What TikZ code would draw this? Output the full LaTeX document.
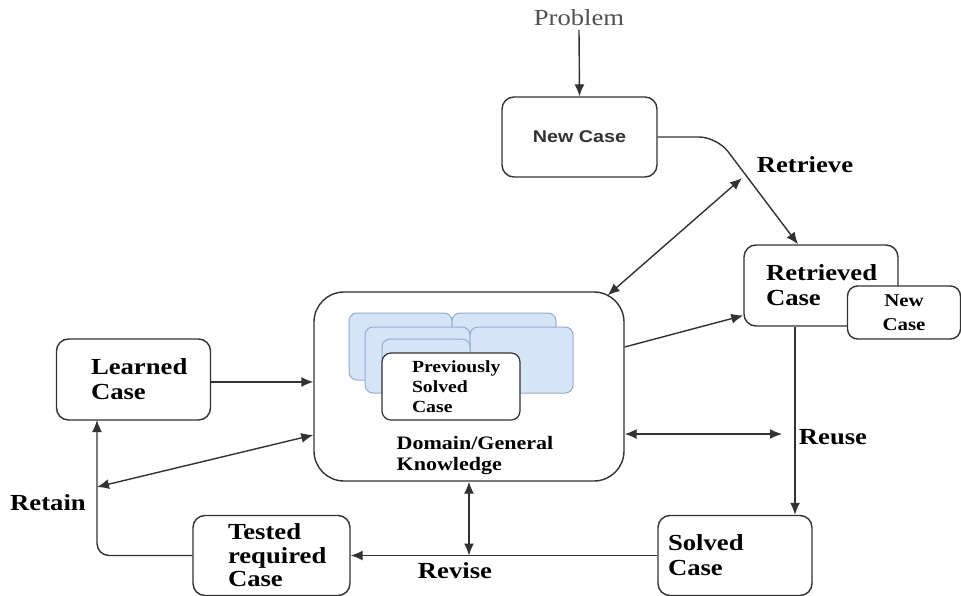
\documentclass[tikz,border=0pt]{standalone}
\usepackage{fontspec}
\setmainfont[FakeStretch=1.16]{Liberation Serif}
\newfontfamily\sansB[FakeStretch=1.16]{Liberation Sans}
\usetikzlibrary{arrows.meta,calc}
\definecolor{ln}{RGB}{50,50,50}
\definecolor{cardfill}{RGB}{214,228,248}
\definecolor{carddraw}{RGB}{150,172,205}
\hbadness=10000 \hfuzz=200pt
\begin{document}
\begin{tikzpicture}[x=1pt,y=-1pt,
  line width=1.4pt,
  arr/.style={draw=ln,-{Latex[length=12pt,width=10pt]}},
  darr/.style={draw=ln,{Latex[length=12pt,width=10pt]}-{Latex[length=12pt,width=10pt]}},
  box/.style={draw=ln,rounded corners=12pt,fill=white,inner sep=0pt},
  lbl/.style={font=\fontsize{23}{25}\selectfont\bfseries,align=left},
  card/.style={draw=carddraw,fill=cardfill,line width=1pt,rounded corners=8pt}]
\useasboundingbox (0,0) rectangle (961,596);

% nodes
\node[font=\fontsize{23}{25}\selectfont,text=ln!85] (problem) at (579,18) {Problem};
\node[box,minimum width=155pt,minimum height=80pt,font=\sansB\fontsize{17}{20}\selectfont\bfseries,text=ln] (newcase) at (579.5,137) {New Case};
\node[box,minimum width=154pt,minimum height=81pt,lbl,text width=110pt] (retrieved) at (821,285.5) {Retrieved\\Case};
\node[box,minimum width=154pt,minimum height=81pt,lbl,text width=85pt] (learned) at (133.5,379.5) {Learned\\Case};
\node[box,minimum width=157pt,minimum height=80pt,lbl,text width=87pt,font=\fontsize{23}{23.5}\selectfont\bfseries] (tested) at (271.5,555.5) {Tested\\required\\Case};
\node[box,minimum width=154pt,minimum height=80pt,lbl,text width=134pt] (solved) at (735,555.5) {Solved\\Case};
\node[box,minimum width=310pt,minimum height=189pt,rounded corners=30pt] (domain) at (469,386.5) {};

% cards inside domain
\draw[card] (349,313) rectangle (452,380);
\draw[card] (452,313) rectangle (556,380);
\draw[card] (365,327) rectangle (470,393);
\draw[card] (470,327) rectangle (573,393);
\draw[card] (382,339) rectangle (470,400);
\node[box,rounded corners=9pt,minimum width=138pt,minimum height=67pt,font=\fontsize{17}{20}\selectfont\bfseries,align=left,text width=78pt,line width=1.2pt] (prev) at (451,386.5) {Previously\\Solved\\Case};
\node[font=\fontsize{19}{21}\selectfont\bfseries,align=left] (domlbl) at (475,456) {Domain/General\\Knowledge};

% labels
\node[lbl] (retrievelbl) at (805,165) {Retrieve};
\node[lbl] (reuselbl) at (833,437) {Reuse};
\node[lbl] (reviselbl) at (455,571) {Revise};
\node[lbl] (retainlbl) at (48,503) {Retain};

% coordinates
\coordinate (rtop) at (742,178);
\coordinate (retk) at (97,487);
\coordinate (reuseend) at (782,434);
\coordinate (revpt) at (469,555.5);

% connectors
\draw[arr] (problem.south) -- (newcase.north);
\draw[arr,rounded corners=18pt] (newcase.east) -- (717,137) -- ([xshift=-23pt]retrieved.north);
\draw[darr] (rtop) -- ([shift={(-17pt,-4pt)}]domain.north east);
\draw[arr] ([yshift=39.5pt]domain.east) -- ([yshift=-30pt]retrieved.west);
\draw[arr] (learned.east |- 0,382) -- (domain.west |- 0,382);
\draw[darr] (retk) -- ([yshift=-48.5pt]domain.west);
\draw[arr,rounded corners=12pt] (tested.west) -- (97,555.5) -- (97,420);
\draw[arr] (solved.west) -- (tested.east);
\draw[darr] (domain.south) -- (revpt);
\draw[arr] ([xshift=-26pt]retrieved.south) -- ([xshift=-26pt]retrieved.south |- solved.north);
\draw[darr] ([yshift=-47.5pt]domain.east) -- (reuseend);

% small new case box, on top of the retrieved case box
\node[box,minimum width=113pt,minimum height=53pt,font=\fontsize{18}{24}\selectfont\bfseries,align=center,rounded corners=10pt] (newsmall) at (904,312.5) {New\\Case};
\end{tikzpicture}
\end{document}
